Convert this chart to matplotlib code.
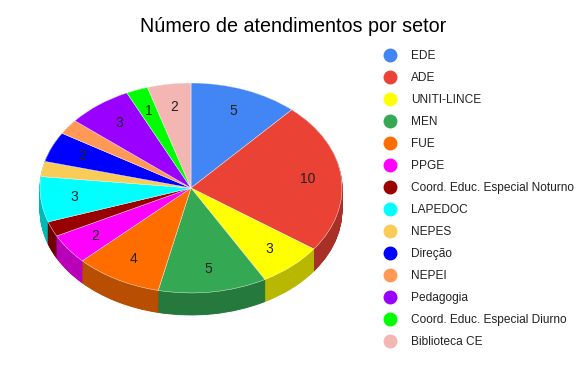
import numpy as np
import matplotlib.pyplot as plt
import matplotlib.colors as mcolors
from matplotlib.lines import Line2D

setores = [
    "EDE", "ADE", "UNITI-LINCE", "MEN", "FUE", "PPGE",
    "Coord. Educ. Especial Noturno", "LAPEDOC", "NEPES", "Direção",
    "NEPEI", "Pedagogia", "Coord. Educ. Especial Diurno", "Biblioteca CE",
]
atendimentos = [5, 10, 3, 5, 4, 2, 1, 3, 1, 2, 1, 3, 1, 2]
cores = [
    "#4285F4", "#EA4335", "#FFFF00", "#34A853", "#FF6D01", "#FF00FF",
    "#990000", "#00FFFF", "#F9CB57", "#0000FF", "#FF9955", "#9900FF",
    "#00FF00", "#F4B6B2",
]
# slices too thin for a label in the original
sem_rotulo = ["Coord. Educ. Especial Noturno", "NEPES", "NEPEI"]

plt.rcParams['font.family'] = ['Liberation Sans', 'DejaVu Sans']

W, H = 587, 369
DEPTH = 0.21     # thickness of the pie, in y-radius units
LAYERS = 40


def darken(c, f=0.72):
    r, g, b = mcolors.to_rgb(c)
    return (r * f, g * f, b * f)


fig = plt.figure(figsize=(W / 100, H / 100), dpi=100)
ax = fig.add_axes([40 / W, 54 / H, 302 / W, 232 / H])

# side wall: stack of darker pies
lados = [darken(c) for c in cores]
for k in range(LAYERS):
    off = -DEPTH * (1 - k / LAYERS)
    ax.pie(atendimentos, colors=lados, startangle=90, counterclock=False,
           center=(0, off), wedgeprops=dict(linewidth=0.6, edgecolor=None))
    for w, c in zip(ax.patches[-len(atendimentos):], lados):
        w.set_edgecolor(c)

total = sum(atendimentos)
wedges, _, autotexts = ax.pie(
    atendimentos, colors=cores, startangle=90, counterclock=False,
    autopct=lambda p: f"{round(p * total / 100):d}", pctdistance=0.78,
    textprops=dict(fontsize=10, color="#222222"),
    wedgeprops=dict(linewidth=0.3, edgecolor="#ffffff"),
)
for t, nome in zip(autotexts, setores):
    if nome in sem_rotulo:
        t.set_text("")

ax.set_aspect('auto')
ax.set_xlim(-1, 1)
ax.set_ylim(-1 - DEPTH, 1)
ax.axis('off')
for p in ax.patches:
    p.set_clip_on(False)

fig.text(293 / W, 1 - 26 / H, "Número de atendimentos por setor",
         ha="center", va="center", fontsize=14.2, color="#000000")

handles = [Line2D([], [], marker="o", linestyle="none", markersize=9,
                  markerfacecolor=c, markeredgecolor=c) for c in cores]
fig.legend(handles, setores, loc="upper left",
           bbox_to_anchor=(384 / W, 1 - 50 / H), frameon=False,
           fontsize=8.6, labelspacing=0.84, handletextpad=1.25,
           handlelength=1.0, borderaxespad=0, borderpad=0,
           labelcolor="#222222")

fig.savefig("out.png", dpi=100)
